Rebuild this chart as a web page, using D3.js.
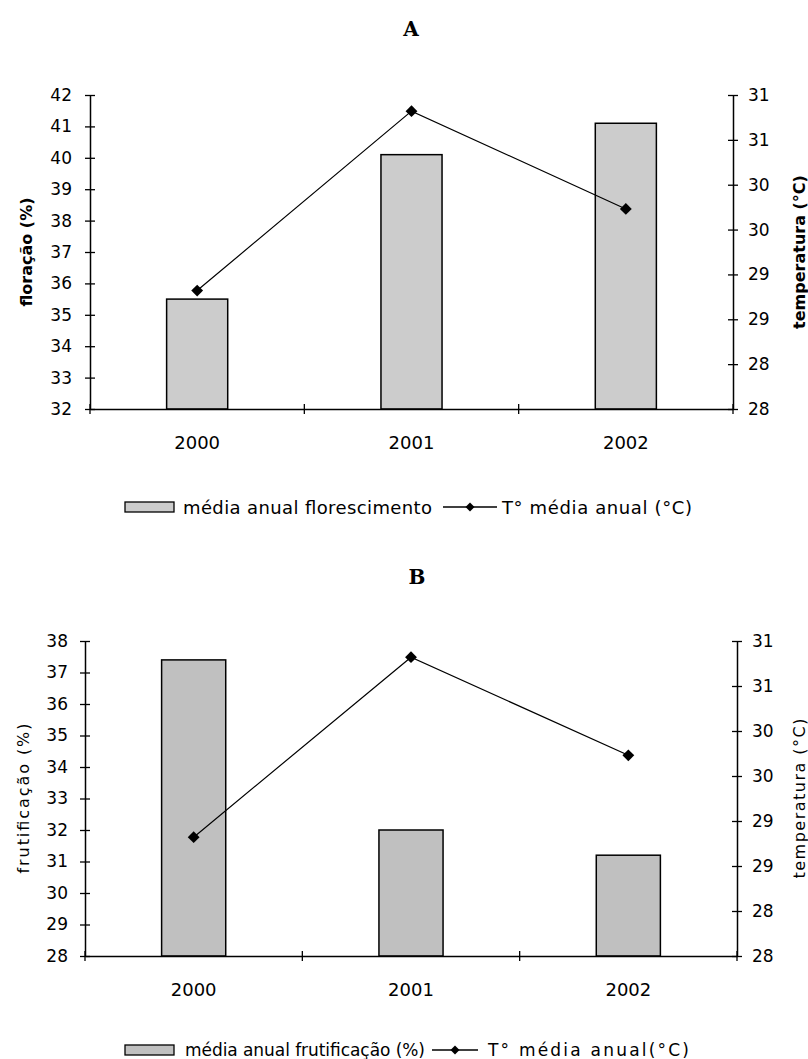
<!DOCTYPE html>
<html>
<head>
<meta charset="utf-8">
<script src="https://cdn.jsdelivr.net/npm/d3@7"></script>
<style>
  html, body { margin: 0; padding: 0; background: #fff; }
  svg { display: block; }
  text { font-family: "DejaVu Sans", sans-serif; fill: #000; }
</style>
</head>
<body>
<svg id="chart" width="808" height="1059"></svg>
<script>
// ---------- data ----------
const years = ["2000", "2001", "2002"];
const floracao = [35.5, 40.1, 41.1];
const frutificacao = [37.4, 32.0, 31.2];
const temperatura = [29.32, 31.32, 30.23];
const floracaoTicks = [32, 33, 34, 35, 36, 37, 38, 39, 40, 41, 42];
const frutificacaoTicks = [28, 29, 30, 31, 32, 33, 34, 35, 36, 37, 38];
const tempTickValues = [28, 28.5, 29, 29.5, 30, 30.5, 31, 31.5];
const tempTickLabels = ["28", "28", "29", "29", "30", "30", "31", "31"];

const svg = d3.select("#chart");

function drawPanel(p) {
  const g = svg.append("g");
  const x = d3.scaleBand().domain(years).range([p.left, p.right]).padding(0);
  const yL = d3.scaleLinear().domain([p.leftTicks[0], p.leftTicks[p.leftTicks.length - 1]]).range([p.bottom, p.top]);
  const yR = d3.scaleLinear().domain([tempTickValues[0], tempTickValues[tempTickValues.length - 1]]).range([p.bottom, p.top]);

  // title
  g.append("text").attr("x", p.titleX).attr("y", p.titleY)
    .attr("text-anchor", "middle").attr("dominant-baseline", "central")
    .style("font-family", "'DejaVu Serif', serif").style("font-weight", "bold").style("font-size", "20px")
    .text(p.title);

  // bars
  const bw = x.bandwidth() * p.barFrac;
  g.selectAll("rect.bar").data(p.values).join("rect")
    .attr("class", "bar")
    .attr("x", (d, i) => x(years[i]) + x.bandwidth() / 2 - bw / 2)
    .attr("y", d => yL(d))
    .attr("width", bw)
    .attr("height", d => p.bottom - yL(d))
    .attr("fill", p.barColor).attr("stroke", "#000").attr("stroke-width", 1.5);

  // left axis
  const la = g.append("g").attr("transform", `translate(${p.left},0)`)
    .call(d3.axisLeft(yL).tickValues(p.leftTicks).tickFormat(d3.format("d")).tickSize(5).tickSizeOuter(0).tickPadding(p.leftPad));
  la.selectAll(".tick line").attr("x1", 5);
  la.selectAll("text").style("font-size", "17px").style("font-family", "'DejaVu Sans', sans-serif");

  // right axis
  const ra = g.append("g").attr("transform", `translate(${p.right},0)`)
    .call(d3.axisRight(yR).tickValues(tempTickValues).tickFormat((d, i) => tempTickLabels[i]).tickSize(5).tickSizeOuter(0).tickPadding(10));
  ra.selectAll(".tick line").attr("x1", -5);
  ra.selectAll("text").style("font-size", "17px").style("font-family", "'DejaVu Sans', sans-serif");

  // bottom axis
  const ba = g.append("g").attr("transform", `translate(0,${p.bottom})`)
    .call(d3.axisBottom(x).tickSize(0).tickSizeOuter(0).tickPadding(27));
  ba.selectAll("text").style("font-size", "18px").style("font-family", "'DejaVu Sans', sans-serif");
  const bounds = d3.range(years.length + 1).map(i => p.left + i * x.step());
  g.selectAll("line.bt").data(bounds).join("line")
    .attr("x1", d => d).attr("x2", d => d)
    .attr("y1", p.bottom - 5).attr("y2", p.bottom + 5)
    .attr("stroke", "#000").attr("stroke-width", 1.3);
  g.selectAll(".domain").attr("stroke", "#000").attr("stroke-width", 1.5);
  g.selectAll(".tick line").attr("stroke", "#000").attr("stroke-width", 1.3);

  // line
  const cx = (d, i) => x(years[i]) + x.bandwidth() / 2;
  g.append("path").datum(temperatura)
    .attr("d", d3.line().x(cx).y(d => yR(d)))
    .attr("fill", "none").attr("stroke", "#000").attr("stroke-width", 1.2);
  g.selectAll("path.mk").data(temperatura).join("path")
    .attr("class", "mk")
    .attr("d", d3.symbol().type(d3.symbolSquare).size(70))
    .attr("transform", (d, i) => `translate(${cx(d, i)},${yR(d)}) rotate(45)`)
    .attr("fill", "#000");

  // axis titles
  const lt = g.append("text")
    .attr("transform", `translate(${p.leftTitleX},${(p.top + p.bottom) / 2}) rotate(-90)`)
    .attr("text-anchor", "middle").attr("dominant-baseline", "central")
    .style("font-size", "16px").style("font-weight", p.bold ? "bold" : "normal")
    .text(p.leftTitle);
  if (p.leftTitleLen) lt.attr("textLength", p.leftTitleLen).attr("lengthAdjust", "spacing");
  const rt = g.append("text")
    .attr("transform", `translate(${p.rightTitleX},${(p.top + p.bottom) / 2}) rotate(-90)`)
    .attr("text-anchor", "middle").attr("dominant-baseline", "central")
    .style("font-size", "16px").style("font-weight", p.bold ? "bold" : "normal")
    .text("temperatura (°C)");
  if (p.rightTitleLen) rt.attr("textLength", p.rightTitleLen).attr("lengthAdjust", "spacing");

  // legend
  const L = p.legend;
  g.append("rect").attr("x", L.boxX).attr("y", L.y - 5).attr("width", 49).attr("height", 10)
    .attr("fill", p.barColor).attr("stroke", "#000").attr("stroke-width", 1.3);
  const t1 = g.append("text").attr("x", L.t1X).attr("y", L.y).attr("dominant-baseline", "central")
    .style("font-size", L.fs + "px").text(L.t1);
  if (L.t1Len) t1.attr("textLength", L.t1Len).attr("lengthAdjust", "spacing");
  g.append("line").attr("x1", L.lineX1).attr("x2", L.lineX2).attr("y1", L.y).attr("y2", L.y)
    .attr("stroke", "#000").attr("stroke-width", 1.3);
  g.append("path").attr("d", d3.symbol().type(d3.symbolSquare).size(40))
    .attr("transform", `translate(${(L.lineX1 + L.lineX2) / 2},${L.y}) rotate(45)`).attr("fill", "#000");
  const t2 = g.append("text").attr("x", L.t2X).attr("y", L.y).attr("dominant-baseline", "central")
    .style("font-size", L.fs + "px").text(L.t2);
  if (L.t2Len) t2.attr("textLength", L.t2Len).attr("lengthAdjust", "spacing");
}

drawPanel({
  title: "A", titleX: 411, titleY: 29,
  left: 90, right: 733, top: 95, bottom: 409,
  values: floracao, leftTicks: floracaoTicks, leftPad: 13,
  barColor: "#cccccc", barFrac: 0.285, bold: true,
  leftTitle: "floração (%)", leftTitleX: 26, rightTitleX: 799,
  legend: { y: 507, fs: 18, boxX: 125, t1X: 183, t1: "média anual florescimento", t1Len: 249,
            lineX1: 443, lineX2: 497, t2X: 502, t2: "T° média anual (°C)", t2Len: 190 }
});

drawPanel({
  title: "B", titleX: 417, titleY: 577,
  left: 85, right: 737, top: 641, bottom: 956,
  values: frutificacao, leftTicks: frutificacaoTicks, leftPad: 12,
  barColor: "#c0c0c0", barFrac: 0.295, bold: false,
  leftTitle: "frutificação (%)", leftTitleX: 23, leftTitleLen: 150,
  rightTitleX: 799, rightTitleLen: 160,
  legend: { y: 1050, fs: 17, boxX: 125, t1X: 185, t1: "média anual frutificação (%)", t1Len: 240,
            lineX1: 432, lineX2: 478, t2X: 488, t2: "T° média anual(°C)", t2Len: 201 }
});
</script>
</body>
</html>
